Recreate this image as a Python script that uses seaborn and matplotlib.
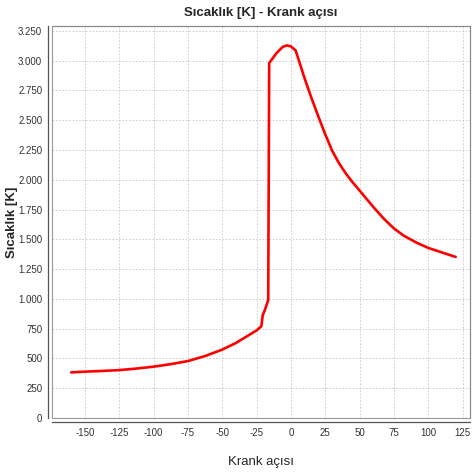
import pandas as pd
import seaborn as sns
import matplotlib.pyplot as plt
from matplotlib.patches import Rectangle
from matplotlib.ticker import FuncFormatter, MultipleLocator

# data
krank = [-160, -150, -137.5, -125, -112.5, -100, -87.5, -75, -62.5, -50, -40, -30, -25, -21.5,
         -20.5, -19, -16.5, -15.8, -10.5, -6, -3, 0, 3.5, 10, 15, 20, 25, 30, 35,
         40, 45, 50, 60, 67.5, 75, 82, 91.5, 100, 111, 120]
sicaklik = [383, 389, 395, 402, 415, 431, 452, 478, 520, 574, 630, 700, 735, 770,
            863, 905, 989, 2980, 3063, 3115, 3128, 3120, 3085, 2851, 2686, 2531, 2382, 2245, 2140,
            2053, 1978, 1910, 1772, 1675, 1592, 1532, 1472, 1428, 1386, 1352]
xticks = [-150, -125, -100, -75, -50, -25, 0, 25, 50, 75, 100, 125]

df = pd.DataFrame({'Krank açısı': krank, 'Sıcaklık [K]': sicaklik})

sns.set_style("white")
plt.rcParams['font.family'] = ['Liberation Sans', 'DejaVu Sans']
plt.rcParams['axes.unicode_minus'] = False

fig = plt.figure(figsize=(4.72, 4.75), dpi=100)
ax = fig.add_axes([0.110, 0.120, 0.886, 0.825])

sns.lineplot(data=df, x='Krank açısı', y='Sıcaklık [K]', color='#ff0000',
             linewidth=1.9, sort=False, ax=ax)

ax.set_xlim(-174, 130.5)
ax.set_ylim(0, 3290)
ax.set_xticks(xticks)
ax.yaxis.set_major_locator(MultipleLocator(250))
ax.yaxis.set_major_formatter(FuncFormatter(lambda v, p: f"{int(v):,}".replace(',', '.')))

ax.grid(True, color='#c8c8c8', linestyle=(0, (2, 2)), linewidth=0.6)

for s in ['top', 'right']:
    ax.spines[s].set_color('#888888')
    ax.spines[s].set_linewidth(0.8)
for s in ['left', 'bottom']:
    ax.spines[s].set_position(('outward', 3))
    ax.spines[s].set_color('#555555')
    ax.spines[s].set_linewidth(0.9)
ax.add_patch(Rectangle((0, 0), 1, 1, transform=ax.transAxes, fill=False,
                       edgecolor='#999999', linewidth=0.8, clip_on=False))

ax.tick_params(axis='both', direction='out', length=2, width=0.6, color='#777777',
               labelsize=7, labelcolor='#333333', pad=2)

ax.set_title("Sıcaklık [K] - Krank açısı", fontsize=9.5, fontweight='bold', pad=7)
ax.set_xlabel("Krank açısı", fontsize=9.5, labelpad=13)
ax.set_ylabel("Sıcaklık [K]", fontsize=9.5, fontweight='bold')
ax.yaxis.set_label_coords(-0.082, 0.5)

plt.savefig("out.png", dpi=100)
